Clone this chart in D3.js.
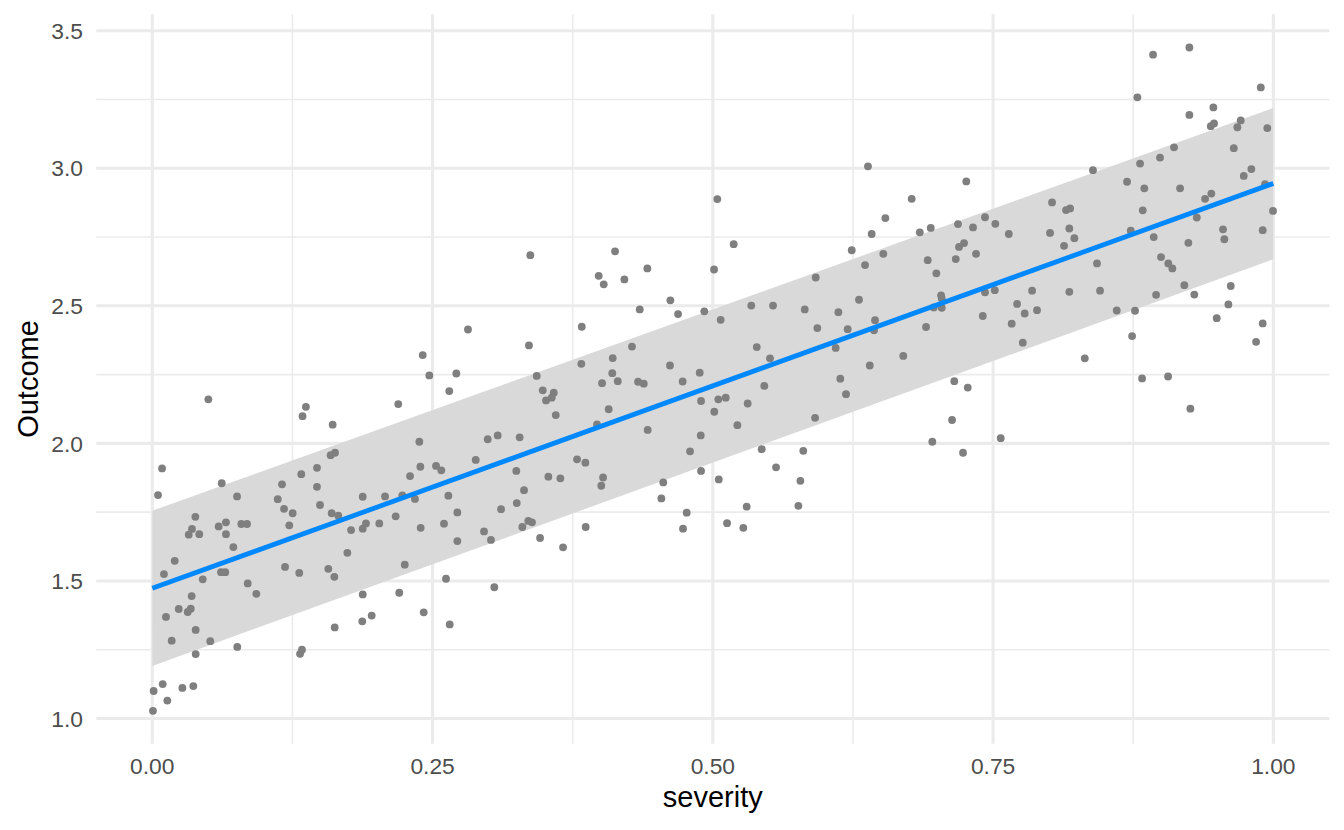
<!DOCTYPE html>
<html>
<head>
<meta charset="utf-8">
<script src="https://cdn.jsdelivr.net/npm/d3@7"></script>
<style>
  html, body { margin: 0; padding: 0; background: #ffffff; }
  svg { display: block; font-family: "Liberation Sans", Arial, sans-serif; }
</style>
</head>
<body>
<svg id="chart" width="1344" height="830"></svg>
<script>
// ---- data ----
const severity = [
  0.050,0.137,0.134,0.0087,0.0051,0.0619,0.0756,0.1157,0.1329,0.1469,
  0.1469,0.1119,0.1175,0.1252,0.1222,0.1496,0.0384,0.0354,0.0325,0.0419,
  0.0592,0.0657,0.0657,0.0794,0.0845,0.0723,0.0200,0.0104,0.0613,0.0651,
  0.0450,0.1184,0.1311,0.0851,0.0928,0.0351,0.0236,0.0316,0.0343,0.0122,
  0.0387,0.0173,0.0517,0.0758,0.0387,0.1335,0.1318,0.0093,0.0012,0.0268,
  0.0366,0.0134,0.0006,
  0.2816,0.2412,0.2471,0.2712,0.2649,0.2194,0.1609,0.2382,0.1591,0.1630,
  0.1600,0.1659,0.1877,0.2076,0.2230,0.2299,0.2391,0.2531,0.2578,0.2885,
  0.2992,0.3081,0.2343,0.2641,0.2721,0.3111,0.1773,0.1877,0.1906,0.2025,
  0.2171,0.2394,0.2602,0.2721,0.2959,0.3021,0.1740,0.1570,0.1624,0.2252,
  0.2620,0.3051,0.1877,0.2203,0.1873,0.1957,0.1627,0.2421,0.2653,
  0.3372,0.4128,0.3982,0.4027,0.4211,0.4416,0.4621,0.4690,0.4348,0.3831,
  0.3360,0.4279,0.4107,0.3827,0.4618,0.3429,0.4103,0.4012,0.4152,0.4333,
  0.4384,0.4731,0.3483,0.3581,0.3563,0.3512,0.3599,0.4071,0.3967,0.4419,
  0.3277,0.3789,0.3863,0.4797,0.3247,0.3533,0.3640,0.4021,0.4005,0.3316,
  0.3251,0.4558,0.4541,0.4767,0.3354,0.3387,0.3301,0.3866,0.3459,0.3664,
  0.4734,
  0.6384,0.5040,0.5186,0.6417,0.6239,0.6358,0.5011,0.5918,0.4924,0.5070,
  0.5343,0.5537,0.5820,0.6120,0.6304,0.5932,0.6203,0.6447,0.5392,0.5510,
  0.6096,0.6400,0.4883,0.4895,0.5049,0.5115,0.5013,0.5311,0.5459,0.6137,
  0.6188,0.5219,0.5912,0.4892,0.5436,0.5807,0.4895,0.5053,0.5564,0.5781,
  0.5302,0.5763,0.5127,0.5272,
  0.7261,0.6774,0.6539,0.6846,0.6944,0.7187,0.7321,0.7428,0.7520,0.7640,
  0.8026,0.8151,0.8187,0.8008,0.8180,0.8133,0.7196,0.7241,0.7348,0.6521,
  0.6917,0.7167,0.6994,0.7036,0.7042,0.6971,0.7042,0.7428,0.7515,0.7848,
  0.7714,0.7782,0.7892,0.7408,0.7666,0.8180,0.6438,0.6902,0.7765,0.6699,
  0.7154,0.7274,0.7134,0.6958,0.7232,0.7568,
  0.8927,0.9251,0.9888,0.8787,0.9251,0.9465,0.9442,0.9471,0.9709,0.9679,
  0.9946,0.9114,0.8989,0.8811,0.9647,0.8391,0.9804,0.9736,0.8695,0.8849,
  0.9168,0.9391,0.9447,0.9926,0.8835,0.9317,0.9997,0.8225,0.8728,0.8933,
  0.9242,0.9551,0.9563,0.9905,0.8427,0.8998,0.9063,0.9099,0.8454,0.8954,
  0.9206,0.9295,0.9620,0.9599,0.8603,0.8766,0.9495,0.9905,0.9846,0.8740,
  0.8318,0.8829,0.9061,0.9260
];
const outcome = [
  2.160,2.133,2.099,1.909,1.812,1.855,1.807,1.851,1.888,1.911,
  1.842,1.797,1.762,1.746,1.702,1.776,1.733,1.689,1.668,1.670,
  1.698,1.713,1.670,1.707,1.707,1.623,1.573,1.525,1.532,1.532,
  1.506,1.551,1.529,1.491,1.453,1.445,1.398,1.387,1.399,1.369,
  1.322,1.283,1.281,1.260,1.234,1.250,1.235,1.125,1.100,1.111,
  1.118,1.065,1.028,
  2.414,2.321,2.247,2.254,2.190,2.143,2.068,2.006,1.957,1.966,
  1.746,1.737,1.806,1.807,1.811,1.881,1.915,1.918,1.902,1.940,
  2.015,2.029,1.798,1.810,1.749,1.761,1.685,1.690,1.709,1.709,
  1.735,1.693,1.708,1.645,1.680,1.649,1.602,1.544,1.515,1.559,
  1.508,1.477,1.451,1.457,1.353,1.374,1.331,1.386,1.342,
  2.684,2.698,2.609,2.578,2.596,2.636,2.520,2.470,2.487,2.424,
  2.356,2.352,2.310,2.289,2.283,2.245,2.255,2.219,2.226,2.224,
  2.217,2.225,2.193,2.184,2.166,2.156,2.103,2.124,2.069,2.049,
  2.022,1.942,1.930,1.971,1.900,1.879,1.873,1.876,1.846,1.830,
  1.783,1.858,1.800,1.748,1.718,1.713,1.696,1.696,1.656,1.622,
  1.690,
  3.007,2.888,2.724,2.761,2.702,2.648,2.632,2.603,2.480,2.449,
  2.501,2.501,2.487,2.477,2.522,2.419,2.415,2.448,2.350,2.309,
  2.347,2.283,2.257,2.154,2.160,2.166,2.115,2.145,2.209,2.235,
  2.179,2.066,2.093,2.029,1.979,1.973,1.900,1.869,1.913,1.864,
  1.770,1.773,1.710,1.693,
  2.952,2.889,2.819,2.767,2.783,2.797,2.785,2.822,2.798,2.761,
  2.876,2.848,2.854,2.765,2.781,2.718,2.714,2.728,2.689,2.689,
  2.666,2.670,2.618,2.538,2.527,2.494,2.493,2.549,2.557,2.555,
  2.507,2.472,2.484,2.463,2.435,2.551,2.411,2.423,2.366,2.318,
  2.226,2.203,2.085,2.006,1.966,2.019,
  3.413,3.439,3.294,3.258,3.194,3.221,3.153,3.163,3.174,3.149,
  3.146,3.076,3.039,3.017,3.073,2.993,2.997,2.972,2.951,2.927,
  2.927,2.889,2.908,2.942,2.847,2.821,2.845,2.746,2.773,2.750,
  2.729,2.778,2.742,2.775,2.654,2.677,2.654,2.636,2.555,2.540,
  2.575,2.541,2.572,2.505,2.483,2.482,2.455,2.436,2.369,2.390,
  2.309,2.236,2.243,2.126
];
// fitted line and band
const fitX = [0, 1];
const fitY = [1.473, 2.945];
const bandLow = [1.191, 2.669];
const bandHigh = [1.755, 3.219];

const xTicks = [0, 0.25, 0.5, 0.75, 1.0];
const xTickLabels = ["0.00", "0.25", "0.50", "0.75", "1.00"];
const xMinor = [0.125, 0.375, 0.625, 0.875];
const yTicks = [1.0, 1.5, 2.0, 2.5, 3.0, 3.5];
const yTickLabels = ["1.0", "1.5", "2.0", "2.5", "3.0", "3.5"];
const yMinor = [1.25, 1.75, 2.25, 2.75, 3.25];

// ---- layout ----
const svg = d3.select("#chart");
const P = { left: 96.25, right: 1329.4, top: 14.2, bottom: 743.8 };

const x = d3.scaleLinear().domain([-0.05, 1.05]).range([P.left, P.right]);
const y = d3.scaleLinear().domain([0.908, 3.56]).range([P.bottom, P.top]);

const gridCol = "#EBEBEB";
const grid = svg.append("g");
// minor
grid.selectAll("line.xmin").data(xMinor).enter().append("line")
  .attr("x1", d => x(d)).attr("x2", d => x(d))
  .attr("y1", P.top).attr("y2", P.bottom)
  .attr("stroke", gridCol).attr("stroke-width", 1.6);
grid.selectAll("line.ymin").data(yMinor).enter().append("line")
  .attr("y1", d => y(d)).attr("y2", d => y(d))
  .attr("x1", P.left).attr("x2", P.right)
  .attr("stroke", gridCol).attr("stroke-width", 1.6);
// major
grid.selectAll("line.xmaj").data(xTicks).enter().append("line")
  .attr("x1", d => x(d)).attr("x2", d => x(d))
  .attr("y1", P.top).attr("y2", P.bottom)
  .attr("stroke", gridCol).attr("stroke-width", 3.1);
grid.selectAll("line.ymaj").data(yTicks).enter().append("line")
  .attr("y1", d => y(d)).attr("y2", d => y(d))
  .attr("x1", P.left).attr("x2", P.right)
  .attr("stroke", gridCol).attr("stroke-width", 3.1);

// band
const bandData = fitX.map((v, i) => ({ x: v, lo: bandLow[i], hi: bandHigh[i] }));
svg.append("path")
  .datum(bandData)
  .attr("fill", "#D9D9D9")
  .attr("d", d3.area().x(d => x(d.x)).y0(d => y(d.lo)).y1(d => y(d.hi)));

// points
const pts = severity.map((v, i) => ({ x: v, y: outcome[i] }));
svg.append("g").selectAll("circle").data(pts).enter().append("circle")
  .attr("cx", d => x(d.x)).attr("cy", d => y(d.y))
  .attr("r", 3.9)
  .attr("fill", "#7F7F7F");

// fit line
const lineData = fitX.map((v, i) => ({ x: v, y: fitY[i] }));
svg.append("path")
  .datum(lineData)
  .attr("fill", "none")
  .attr("stroke", "#0088FF")
  .attr("stroke-width", 4.8)
  .attr("d", d3.line().x(d => x(d.x)).y(d => y(d.y)));

// axes labels
svg.append("g").selectAll("text").data(xTicks).enter().append("text")
  .attr("x", d => x(d)).attr("y", 773.5)
  .attr("text-anchor", "middle")
  .attr("font-size", 22.8)
  .attr("fill", "#4D4D4D")
  .text((d, i) => xTickLabels[i]);

svg.append("g").selectAll("text").data(yTicks).enter().append("text")
  .attr("x", 83).attr("y", d => y(d))
  .attr("dy", "0.36em")
  .attr("text-anchor", "end")
  .attr("font-size", 22.8)
  .attr("fill", "#4D4D4D")
  .text((d, i) => yTickLabels[i]);

svg.append("text")
  .attr("x", (P.left + P.right) / 2).attr("y", 806.5)
  .attr("text-anchor", "middle")
  .attr("font-size", 29)
  .attr("fill", "#000000")
  .text("severity");

svg.append("text")
  .attr("transform", `translate(38,${(P.top + P.bottom) / 2}) rotate(-90)`)
  .attr("text-anchor", "middle")
  .attr("font-size", 29)
  .attr("fill", "#000000")
  .text("Outcome");
</script>
</body>
</html>
